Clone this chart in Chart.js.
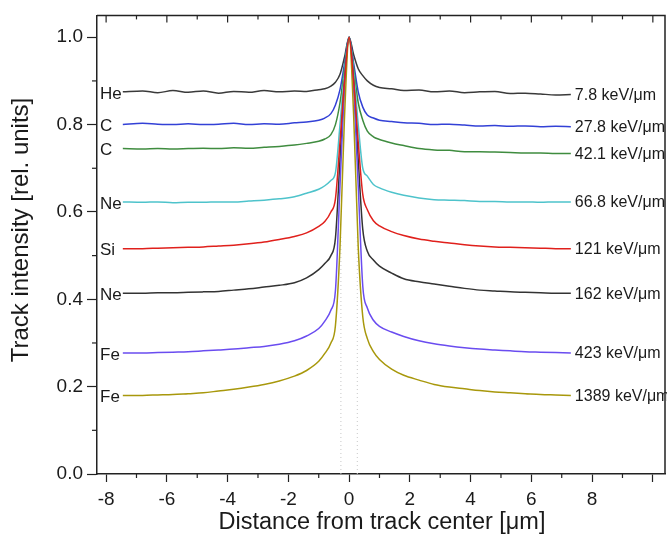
<!DOCTYPE html>
<html>
<head>
<meta charset="utf-8">
<script src="https://cdn.jsdelivr.net/npm/chart.js@4.4.0/dist/chart.umd.min.js"></script>
<style>
  html, body { margin: 0; padding: 0; background: #fff; }
  #wrap { position: relative; width: 667px; height: 548px; }
</style>
</head>
<body>
<div id="wrap"><canvas id="trackChart"></canvas></div>
<script>
// distance from track center [um], shared by all profiles
const distance = [-7.45, -6.8, -6.3, -5.8, -5.3, -4.8, -4.3, -3.8, -3.3, -2.8, -2.3, -1.8, -1.4, -1.0, -0.8, -0.6, -0.45, -0.3, -0.15,
  0,
  0.15, 0.3, 0.45, 0.6, 0.8, 1.0, 1.4, 1.8, 2.3, 2.8, 3.3, 3.8, 4.3, 4.8, 5.3, 5.8, 6.3, 6.8, 7.3];

// track intensity profiles [rel. units]
const he78 = [0.875, 0.877, 0.873, 0.878, 0.874, 0.877, 0.872, 0.876, 0.874, 0.878, 0.875, 0.877, 0.876, 0.880, 0.882, 0.888, 0.897, 0.915, 0.955,
  1.0,
  0.960, 0.928, 0.912, 0.900, 0.890, 0.885, 0.882, 0.878, 0.879, 0.875, 0.877, 0.873, 0.875, 0.876, 0.871, 0.872, 0.870, 0.868, 0.869];
const c278 = [0.800, 0.803, 0.801, 0.800, 0.802, 0.800, 0.801, 0.803, 0.800, 0.802, 0.801, 0.804, 0.806, 0.810, 0.815, 0.825, 0.845, 0.880, 0.940,
  1.0,
  0.940, 0.875, 0.840, 0.822, 0.815, 0.810, 0.807, 0.804, 0.803, 0.800, 0.801, 0.799, 0.797, 0.798, 0.796, 0.797, 0.795, 0.796, 0.795];
const c421 = [0.745, 0.744, 0.745, 0.744, 0.745, 0.746, 0.745, 0.747, 0.746, 0.748, 0.750, 0.753, 0.757, 0.762, 0.767, 0.777, 0.800, 0.850, 0.930,
  1.0,
  0.930, 0.850, 0.810, 0.785, 0.772, 0.766, 0.758, 0.752, 0.745, 0.742, 0.741, 0.738, 0.738, 0.737, 0.736, 0.735, 0.735, 0.734, 0.734];
const ne668 = [0.623, 0.622, 0.623, 0.621, 0.622, 0.622, 0.623, 0.623, 0.625, 0.627, 0.630, 0.635, 0.643, 0.652, 0.660, 0.672, 0.690, 0.800, 0.920,
  1.0,
  0.920, 0.800, 0.700, 0.682, 0.663, 0.655, 0.645, 0.638, 0.632, 0.628, 0.627, 0.626, 0.624, 0.624, 0.623, 0.623, 0.622, 0.623, 0.623];
const si121 = [0.516, 0.516, 0.517, 0.518, 0.519, 0.520, 0.522, 0.524, 0.527, 0.531, 0.537, 0.544, 0.552, 0.567, 0.578, 0.600, 0.630, 0.760, 0.900,
  1.0,
  0.900, 0.760, 0.640, 0.605, 0.580, 0.568, 0.555, 0.546, 0.538, 0.533, 0.529, 0.525, 0.522, 0.520, 0.519, 0.518, 0.517, 0.516, 0.516];
const ne162 = [0.414, 0.414, 0.415, 0.415, 0.416, 0.417, 0.418, 0.421, 0.424, 0.428, 0.432, 0.438, 0.449, 0.468, 0.482, 0.500, 0.540, 0.720, 0.900,
  1.0,
  0.900, 0.720, 0.560, 0.510, 0.490, 0.476, 0.460, 0.447, 0.440, 0.435, 0.430, 0.425, 0.421, 0.419, 0.417, 0.416, 0.415, 0.414, 0.414];
const fe423 = [0.277, 0.277, 0.278, 0.279, 0.280, 0.282, 0.284, 0.286, 0.289, 0.292, 0.297, 0.305, 0.316, 0.333, 0.350, 0.375, 0.420, 0.660, 0.880,
  1.0,
  0.880, 0.660, 0.430, 0.380, 0.352, 0.338, 0.325, 0.315, 0.305, 0.298, 0.293, 0.289, 0.286, 0.284, 0.282, 0.280, 0.279, 0.278, 0.277];
const fe1389 = [0.180, 0.180, 0.181, 0.182, 0.184, 0.186, 0.190, 0.194, 0.199, 0.205, 0.213, 0.224, 0.237, 0.258, 0.276, 0.300, 0.340, 0.520, 0.820,
  1.0,
  0.820, 0.520, 0.360, 0.310, 0.280, 0.262, 0.240, 0.226, 0.215, 0.205, 0.199, 0.195, 0.191, 0.188, 0.186, 0.184, 0.182, 0.181, 0.180];

const profiles = [he78, c278, c421, ne668, si121, ne162, fe423, fe1389];
const ionNames = ['He', 'C', 'C', 'Ne', 'Si', 'Ne', 'Fe', 'Fe'];
const letLabels = ['7.8 keV/\u03bcm', '27.8 keV/\u03bcm', '42.1 keV/\u03bcm', '66.8 keV/\u03bcm',
  '121 keV/\u03bcm', '162 keV/\u03bcm', '423 keV/\u03bcm', '1389 keV/\u03bcm'];
const lineColors = ['#3a3a3a', '#3341d6', '#3f8c3f', '#4ec3cb', '#e0201c', '#333333', '#6a4cf0', '#a8980c'];
const drawOrder = [7, 6, 5, 4, 0, 3, 2, 1];

// faint dotted guides either side of the core
const guideX = [-0.27, 0.27];
const guideY = [0, 0.55];

const FONT = '"Liberation Sans", Arial, sans-serif';

const datasets = profiles.map((vals, i) => ({
  label: letLabels[i],
  data: distance.map((x, j) => ({ x: x, y: vals[j] })),
  borderColor: lineColors[i],
  borderWidth: 1.5,
  pointRadius: 0,
  fill: false,
  cubicInterpolationMode: 'monotone',
  order: drawOrder[i]
}));
guideX.forEach(gx => {
  datasets.push({
    label: 'guide',
    data: guideY.map(gy => ({ x: gx, y: gy })),
    borderColor: '#c8c8c8',
    borderWidth: 1,
    borderDash: [1, 3],
    pointRadius: 0,
    order: 10
  });
});

const isMajor = (v, step) => Math.abs(Math.round(v / step) * step - v) < 1e-6;

const framePlugin = {
  id: 'frame',
  afterDraw(chart) {
    const { ctx, chartArea: a, scales } = chart;
    ctx.save();
    ctx.strokeStyle = '#222';
    ctx.lineWidth = 1.5;
    // top and right border
    ctx.beginPath();
    ctx.moveTo(a.left, a.top);
    ctx.lineTo(a.right, a.top);
    ctx.lineTo(a.right, a.bottom);
    ctx.stroke();
    ctx.lineWidth = 1.2;
    // top ticks (inward) and minor ticks
    scales.x.ticks.forEach(t => {
      const px = scales.x.getPixelForValue(t.value);
      const major = isMajor(t.value, 2);
      ctx.beginPath();
      ctx.moveTo(px, a.top);
      ctx.lineTo(px, a.top + (major ? 7 : 4));
      ctx.stroke();
      if (!major) {
        ctx.beginPath();
        ctx.moveTo(px, a.bottom);
        ctx.lineTo(px, a.bottom + 4);
        ctx.stroke();
      }
    });
    scales.y.ticks.forEach(t => {
      if (isMajor(t.value, 0.2)) return;
      const py = scales.y.getPixelForValue(t.value);
      ctx.beginPath();
      ctx.moveTo(a.left, py);
      ctx.lineTo(a.left - 5, py);
      ctx.stroke();
    });
    // axis titles
    ctx.fillStyle = '#1a1a1a';
    ctx.font = '23.5px ' + FONT;
    ctx.textAlign = 'center';
    ctx.textBaseline = 'middle';
    ctx.fillText('Distance from track center [\u03bcm]', 382, 523);
    ctx.font = '24px ' + FONT;
    ctx.translate(21, 230);
    ctx.rotate(-Math.PI / 2);
    ctx.fillText('Track intensity [rel. units]', 0, 0);
    ctx.restore();
  },
  afterDatasetsDraw(chart) {
    const { ctx, chartArea: a } = chart;
    ctx.save();
    ctx.fillStyle = '#1a1a1a';
    ctx.textBaseline = 'middle';
    profiles.forEach((vals, i) => {
      const pts = chart.getDatasetMeta(i).data;
      const first = pts[0];
      const last = pts[pts.length - 1];
      ctx.font = '17px ' + FONT;
      ctx.textAlign = 'left';
      ctx.fillText(ionNames[i], a.left + 3, first.y + 2);
      ctx.font = '16px ' + FONT;
      ctx.fillText(letLabels[i], last.x + 4, last.y + 1);
    });
    ctx.restore();
  }
};

new Chart(document.getElementById('trackChart'), {
  type: 'line',
  data: { datasets: datasets },
  options: {
    responsive: true,
    maintainAspectRatio: false,
    animation: false,
    layout: { padding: { top: 13, right: 2, left: 0, bottom: 0 } },
    plugins: {
      legend: { display: false },
      tooltip: { enabled: false }
    },
    scales: {
      x: {
        type: 'linear',
        min: -8.3,
        max: 10.4,
        afterFit: s => { s.height = 74; },
        border: { color: '#222', width: 1.5 },
        grid: {
          drawOnChartArea: false,
          tickLength: 8,
          tickWidth: 1.2,
          tickColor: c => (c.tick && isMajor(c.tick.value, 2) ? '#222' : 'rgba(0,0,0,0)')
        },
        ticks: {
          stepSize: 1,
          includeBounds: false,
          autoSkip: false,
          maxRotation: 0,
          padding: 6,
          color: '#1a1a1a',
          font: { family: FONT, size: 19 },
          callback: v => (isMajor(v, 2) && v <= 8 ? String(Math.round(v)) : '')
        }
      },
      y: {
        type: 'linear',
        min: 0,
        max: 1.05,
        afterFit: s => { s.width = 97; },
        border: { color: '#222', width: 1.5 },
        grid: {
          drawOnChartArea: false,
          tickLength: 10,
          tickWidth: 1.2,
          tickColor: c => (c.tick && isMajor(c.tick.value, 0.2) ? '#222' : 'rgba(0,0,0,0)')
        },
        ticks: {
          stepSize: 0.1,
          includeBounds: false,
          autoSkip: false,
          padding: 4,
          color: '#1a1a1a',
          font: { family: FONT, size: 19 },
          callback: v => (isMajor(v, 0.2) ? v.toFixed(1) : '')
        }
      }
    }
  },
  plugins: [framePlugin]
});
</script>
</body>
</html>
